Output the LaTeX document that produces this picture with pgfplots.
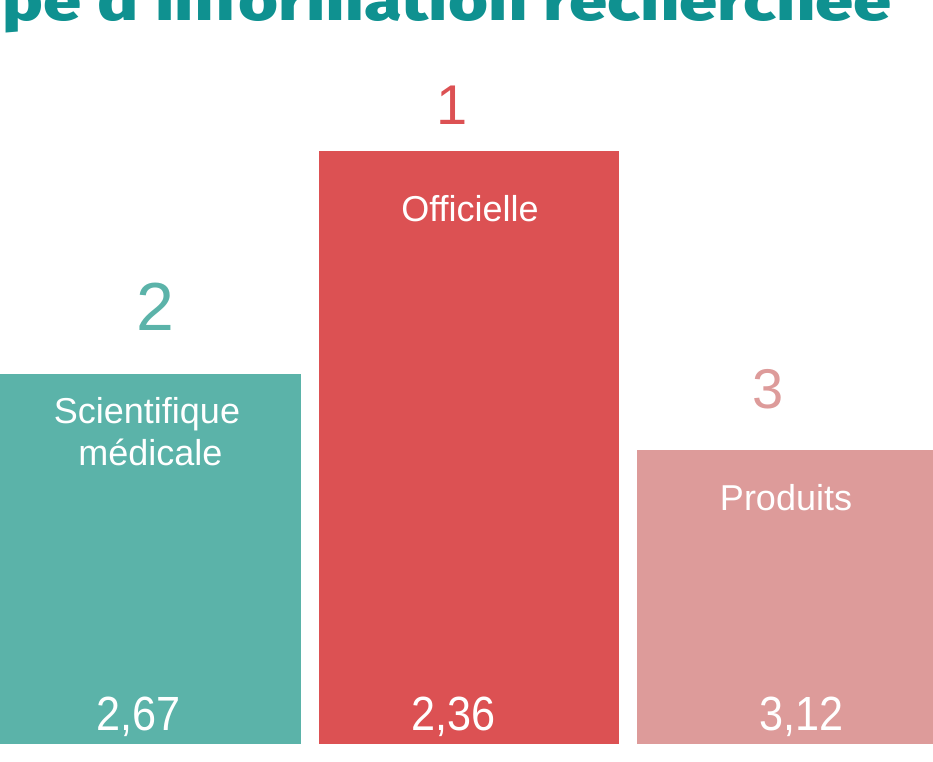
\documentclass[border=0pt]{standalone}
\usepackage{fontspec}
\setmainfont{Liberation Sans}
\newfontfamily\numfont{Liberation Sans}[FakeStretch=0.9]
\newfontfamily\titlefont{Fira Sans ExtraBold}
\usepackage{pgfplots}
\pgfplotsset{compat=1.18}
\definecolor{cteal}{HTML}{5BB3A9}
\definecolor{cred}{HTML}{DC5153}
\definecolor{cpink}{HTML}{DD9B9A}
\definecolor{ctitle}{HTML}{0F9190}
\begin{document}
\begin{tikzpicture}[x=1pt,y=1pt]
\begin{axis}[at={(0,0)}, anchor=south west, scale only axis,
  width=933pt, height=744pt,
  xmin=-0.47290, xmax=2.45876, ymin=0, ymax=744,
  axis lines=none, ticks=none, ybar, bar width=300.5pt, clip=false]
\addplot[draw=none, fill=cteal, bar shift=0pt] coordinates {(0,370)};
\addplot[draw=none, fill=cred, bar shift=0pt] coordinates {(1,593)};
\addplot[draw=none, fill=cpink, bar shift=0pt] coordinates {(2,294)};
% rank numbers
\node[anchor=base, inner sep=0, text=cteal, font=\fontsize{68}{70}\selectfont] at (axis cs:0.01414,413) {2};
\node[anchor=base, inner sep=0, text=cred, font=\fontsize{56}{60}\selectfont] at (axis cs:0.9474,619) {1};
\node[anchor=base, inner sep=0, text=cpink, font=\fontsize{56}{60}\selectfont] at (axis cs:1.9403,336) {3};
% category labels
\node[anchor=base, inner sep=0, text=white, font=\fontsize{36}{42}\selectfont] at (axis cs:-0.011,321) {Scientifique};
\node[anchor=base, inner sep=0, text=white, font=\fontsize{36}{42}\selectfont] at (axis cs:0,279) {médicale};
\node[anchor=base, inner sep=0, text=white, font=\fontsize{36}{42}\selectfont] at (axis cs:1.0039,522) {Officielle};
\node[anchor=base, inner sep=0, text=white, font=\fontsize{36}{42}\selectfont] at (axis cs:1.9969,234) {Produits};
% values
\node[anchor=base, inner sep=0, text=white, font=\numfont\fontsize{48}{50}\selectfont] at (axis cs:-0.0377,14) {2,67};
\node[anchor=base, inner sep=0, text=white, font=\numfont\fontsize{48}{50}\selectfont] at (axis cs:0.952,14) {2,36};
\node[anchor=base, inner sep=0, text=white, font=\numfont\fontsize{48}{50}\selectfont] at (axis cs:2.047,14) {3,12};
\end{axis}
\node[anchor=base east, inner sep=0, text=ctitle] at (892,723)
  {\titlefont\fontsize{56}{60}\selectfont \llap{Ty}\resizebox{889pt}{\height}{pe d'information recherchée}};
\pgfresetboundingbox
\useasboundingbox (0,-17) rectangle (933,744);
\end{tikzpicture}
\end{document}
